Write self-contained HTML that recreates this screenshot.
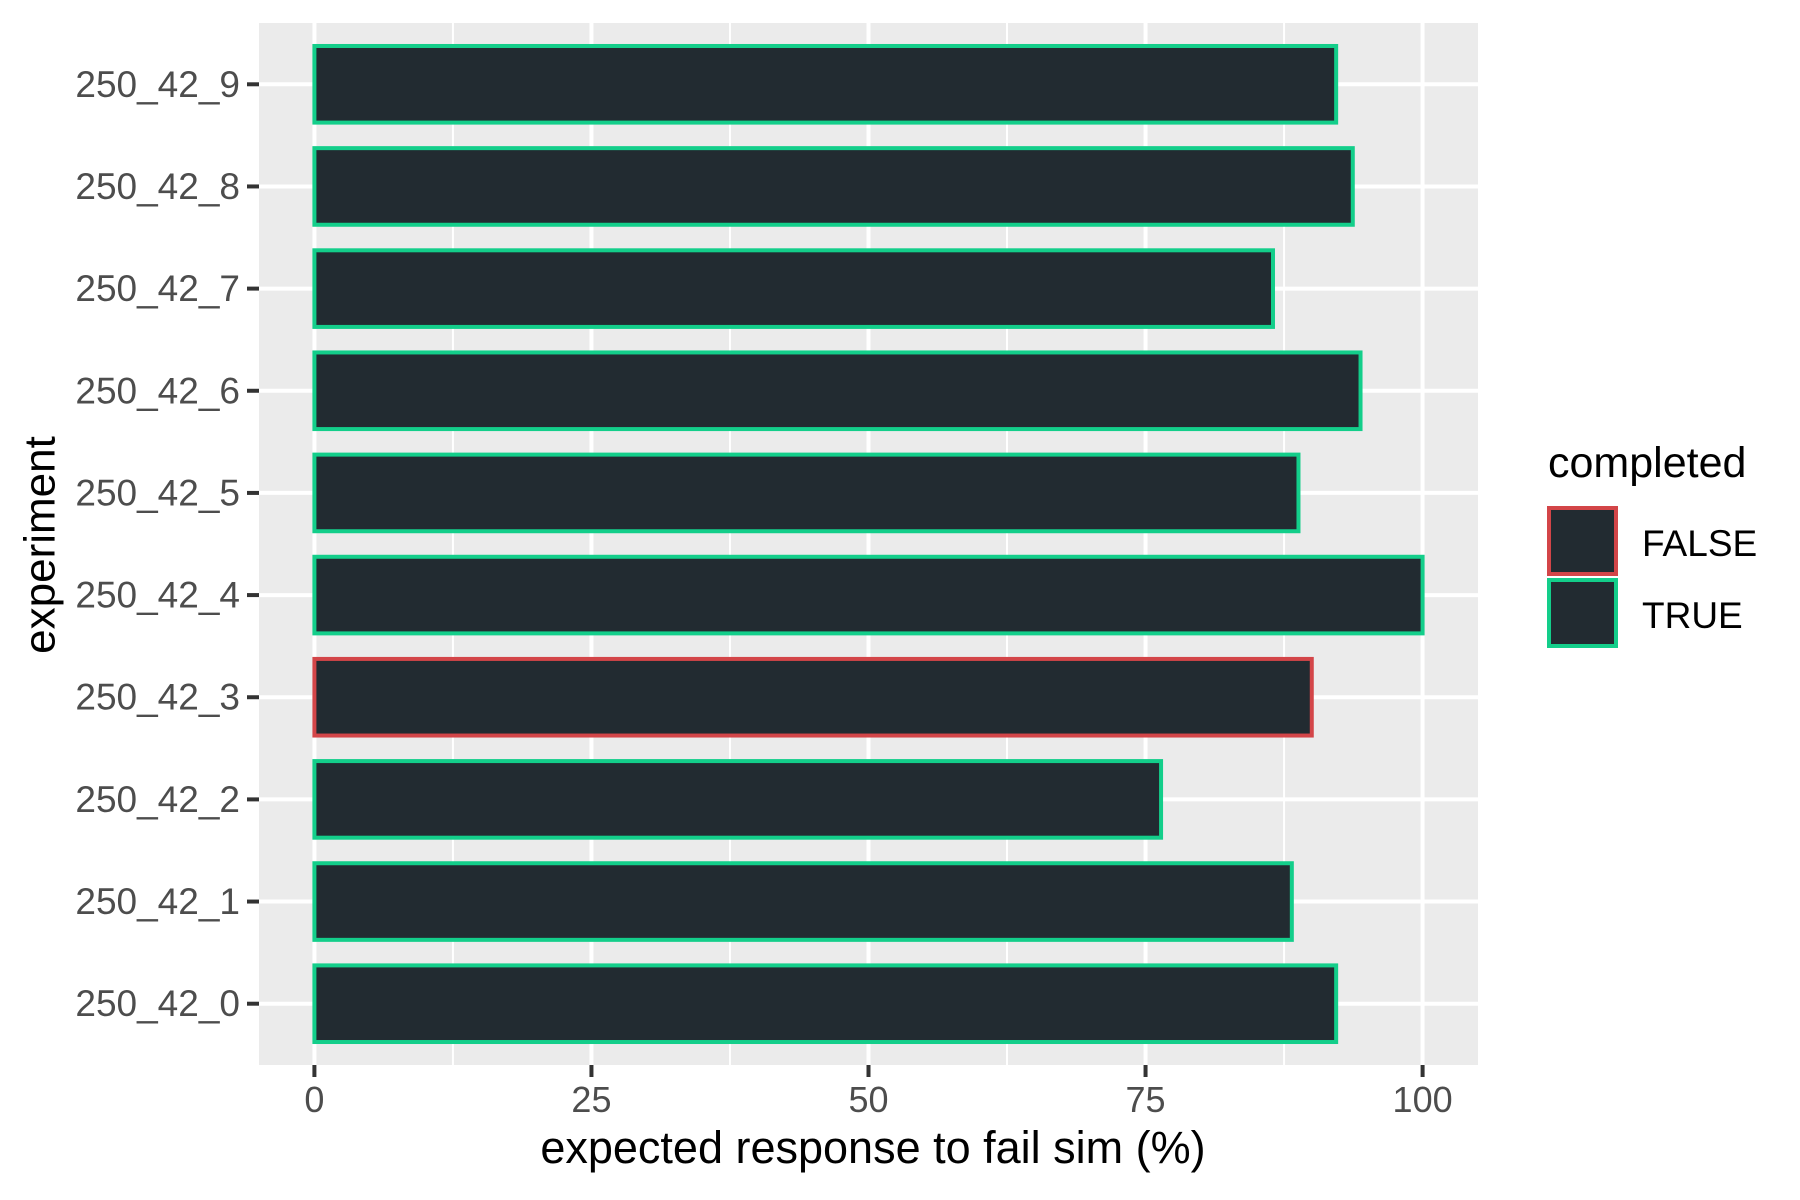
<!DOCTYPE html>
<html><head><meta charset="utf-8"><style>html,body{margin:0;padding:0;background:#fff}svg{display:block}text{font-family:"Liberation Sans",sans-serif}</style></head>
<body>
<svg id="chart" width="1800" height="1200" viewBox="0 0 1800 1200">
<rect x="259" y="23" width="1219" height="1042" fill="#ebebeb"/>
<g id="grid"></g><g id="bars"></g><g id="axes"></g>
<text x="43" y="545" font-size="44" text-anchor="middle" transform="rotate(-90 43 545)" dominant-baseline="middle">experiment</text>
<text x="873" y="1163" font-size="45" text-anchor="middle">expected response to fail sim (%)</text>
<g>
<text x="1548" y="477" font-size="43">completed</text>
<rect x="1549" y="508" width="67" height="66" fill="#222b31" stroke="#d34548" stroke-width="4"/>
<text x="1642" y="556" font-size="37">FALSE</text>
<rect x="1549" y="580" width="67" height="66" fill="#222b31" stroke="#13ce8a" stroke-width="4"/>
<text x="1642" y="628" font-size="37">TRUE</text>
</g>
</svg>
<script>
const categories=["250_42_0","250_42_1","250_42_2","250_42_3","250_42_4","250_42_5","250_42_6","250_42_7","250_42_8","250_42_9"];
const values=[92.2,88.2,76.4,90.0,100,88.8,94.4,86.5,93.7,92.2];
const completed=[true,true,true,false,true,true,true,true,true,true];
const xTicks=[0,25,50,75,100];
const NS="http://www.w3.org/2000/svg";
const L=259,R=1478,T=23,B=1065;
const xs=v=>L+(v+5)/110*(R-L);
const ys=i=>B-(i+0.6)/10.2*(B-T);
const bw=0.75*(B-T)/10.2;
function mk(tag,at,parent){const e=document.createElementNS(NS,tag);for(const k in at)e.setAttribute(k,at[k]);document.getElementById(parent).appendChild(e);return e;}
for(let i=0;i<xTicks.length-1;i++){const m=(xTicks[i]+xTicks[i+1])/2;
const g=mk('line',{x1:xs(m),x2:xs(m),y1:T,y2:B,stroke:'#fff','stroke-width':2},'grid');

}
xTicks.forEach(t=>{const g=mk('line',{x1:xs(t),x2:xs(t),y1:T,y2:B,stroke:'#fff','stroke-width':4},'grid');


const tk=mk('line',{x1:xs(t),x2:xs(t),y1:B,y2:B+12,stroke:'#333','stroke-width':4},'axes');


const tx=mk('text',{x:xs(t),y:1112,'font-size':36,fill:'#4d4d4d','text-anchor':'middle'},'axes');tx.textContent=t;

});
categories.forEach((c,i)=>{const y=ys(i);
const g=mk('line',{x1:L,x2:R,y1:y,y2:y,stroke:'#fff','stroke-width':4},'grid');


const b=mk('rect',{x:xs(0),y:y-bw/2,width:xs(values[i])-xs(0),height:bw,fill:'#222b31',stroke:completed[i]?'#13ce8a':'#d34548','stroke-width':4},'bars');


const tk=mk('line',{x1:L-12,x2:L,y1:y,y2:y,stroke:'#333','stroke-width':4},'axes');


const tx=mk('text',{x:240,y:y,'font-size':37,fill:'#4d4d4d','text-anchor':'end','dominant-baseline':'central'},'axes');tx.textContent=c;

});
</script>
</body></html>
